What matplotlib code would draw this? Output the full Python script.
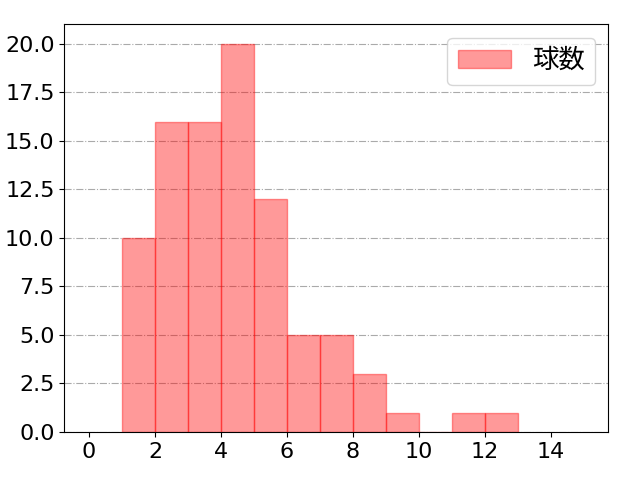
import matplotlib.pyplot as plt

plt.rcParams['font.family'] = ['DejaVu Sans', 'Noto Sans CJK JP']
plt.rcParams['font.size'] = 16

# bin left edges and counts
bin_lefts = [1, 2, 3, 4, 5, 6, 7, 8, 9, 10, 11, 12]
counts = [10, 16, 16, 20, 12, 5, 5, 3, 1, 0, 1, 1]
label = '球数'

fig, ax = plt.subplots(figsize=(6.4, 4.8), dpi=100)
fig.subplots_adjust(left=0.1005, right=0.9505, top=0.949, bottom=0.1)
ax.bar(bin_lefts, counts, width=1, align='edge', color='red', alpha=0.4,
       edgecolor='red', linewidth=1, label=label)
ax.set_xlim(-0.75, 15.75)
ax.set_ylim(0, 21)
ax.set_xticks(range(0, 16, 2))
ax.set_yticks([i * 2.5 for i in range(9)])
ax.yaxis.grid(True, linestyle='-.', color='#aaaaaa', linewidth=0.8)
ax.set_axisbelow(True)
ax.legend(loc='upper right', fontsize=19)

plt.savefig('out.png')
